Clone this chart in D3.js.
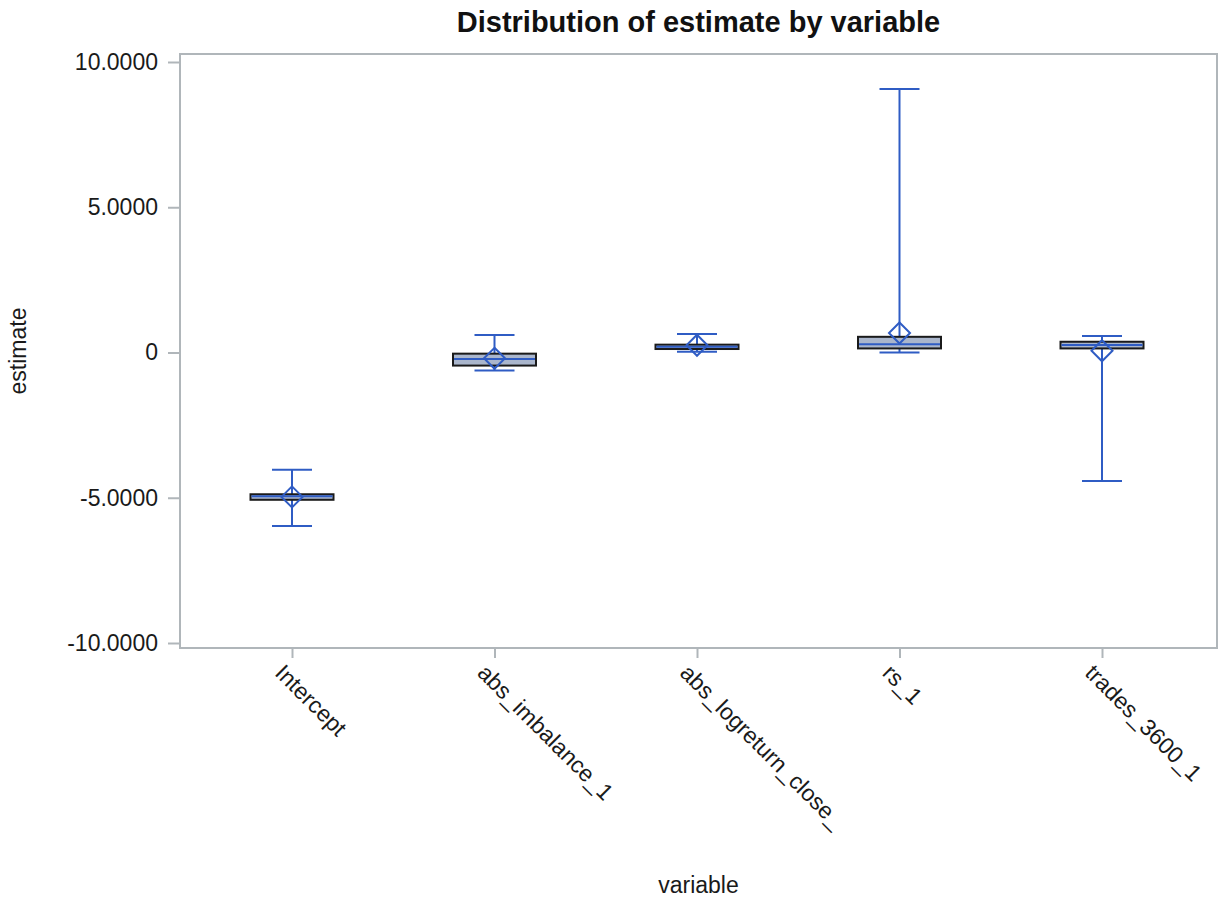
<!DOCTYPE html>
<html><head><meta charset="utf-8">
<script src="https://cdn.jsdelivr.net/npm/d3@7"></script>
<style>body{margin:0;background:#fff;} text{font-family:"Liberation Sans",Arial,sans-serif;}</style>
</head><body>
<svg id="c" width="1225" height="903"></svg>
<script>
const categories = ["Intercept","abs_imbalance_1","abs_logreturn_close_","rs_1","trades_3600_1"];
const q1Values     = [-5.07, -0.45, 0.12, 0.14, 0.14];
const medianValues = [-4.95, -0.22, 0.20, 0.28, 0.26];
const q3Values     = [-4.88, -0.04, 0.27, 0.54, 0.37];
const minValues    = [-5.97, -0.62, 0.03, 0.00, -4.42];
const maxValues    = [-4.04, 0.60, 0.64, 9.07, 0.57];
const meanValues   = [-4.97, -0.20, 0.25, 0.67, 0.06];
const yTicks = [-10, -5, 0, 5, 10];
const yTickLabels = ["-10.0000", "-5.0000", "0", "5.0000", "10.0000"];

const svg = d3.select("#c");
const L = 180, R = 1217, T = 54, B = 648;
const y = d3.scaleLinear().domain([-10, 10]).range([643, 62]);
const x = d3.scalePoint().domain(categories).range([L + 112, R - 115]);
const blue = "#2f5cc4", frame = "#b0b6ba", ink = "#1a1a1a";
const FS = 23;

svg.append("rect").attr("x", L).attr("y", T).attr("width", R - L).attr("height", B - T)
  .attr("fill", "none").attr("stroke", frame).attr("stroke-width", 2);

const yAx = svg.append("g").attr("transform", `translate(${L},0)`)
  .call(d3.axisLeft(y).tickValues(yTicks).tickFormat((d, i) => yTickLabels[i]).tickSize(12).tickPadding(10));
yAx.select(".domain").remove();
yAx.selectAll("line").attr("stroke", frame).attr("stroke-width", 2);
yAx.selectAll("text").attr("font-size", FS).attr("fill", ink).style("font-family", '"Liberation Sans",Arial,sans-serif');

const xAx = svg.append("g").attr("transform", `translate(0,${B})`)
  .call(d3.axisBottom(x).tickSize(10).tickFormat(""));
xAx.select(".domain").remove();
xAx.selectAll("line").attr("stroke", frame).attr("stroke-width", 2);
categories.forEach(c => {
  svg.append("text").attr("transform", `translate(${x(c) - 14},${B + 22}) rotate(45)`)
    .attr("font-size", FS).attr("fill", ink).attr("text-anchor", "start")
    .attr("dominant-baseline", "middle").text(c);
});

const bw = 83, cw = 40, ds = 10.5;
const data = categories.map((c, i) => ({c, q1: q1Values[i], med: medianValues[i], q3: q3Values[i],
  mn: minValues[i], mx: maxValues[i], mean: meanValues[i]}));
const g = svg.append("g");
data.forEach(d => {
  const cx = x(d.c);
  g.append("line").attr("x1", cx).attr("x2", cx).attr("y1", y(d.q3)).attr("y2", y(d.mx)).attr("stroke", blue).attr("stroke-width", 2);
  g.append("line").attr("x1", cx).attr("x2", cx).attr("y1", y(d.q1)).attr("y2", y(d.mn)).attr("stroke", blue).attr("stroke-width", 2);
  [d.mn, d.mx].forEach(v => g.append("line").attr("x1", cx - cw / 2).attr("x2", cx + cw / 2)
    .attr("y1", y(v)).attr("y2", y(v)).attr("stroke", blue).attr("stroke-width", 2));
  const top = y(d.q3), bot = y(d.q1);
  g.append("rect").attr("x", cx - bw / 2).attr("y", top).attr("width", bw).attr("height", Math.max(bot - top, 3))
    .attr("fill", "#aab6cc").attr("stroke", "#1a1a1a").attr("stroke-width", 2);
  g.append("line").attr("x1", cx - bw / 2 + 1).attr("x2", cx + bw / 2 - 1).attr("y1", y(d.med)).attr("y2", y(d.med))
    .attr("stroke", blue).attr("stroke-width", 2);
  const my = y(d.mean);
  g.append("path").attr("d", `M${cx},${my - ds}L${cx + ds},${my}L${cx},${my + ds}L${cx - ds},${my}Z`)
    .attr("fill", "none").attr("stroke", blue).attr("stroke-width", 2);
});

svg.append("text").attr("x", (L + R) / 2).attr("y", 32).attr("text-anchor", "middle")
  .attr("font-size", 29).attr("font-weight", "bold").attr("fill", "#111").text("Distribution of estimate by variable");
svg.append("text").attr("transform", `translate(26,${(T + B) / 2}) rotate(-90)`).attr("text-anchor", "middle")
  .attr("font-size", FS).attr("fill", ink).text("estimate");
svg.append("text").attr("x", (L + R) / 2).attr("y", 893).attr("text-anchor", "middle")
  .attr("font-size", FS).attr("fill", ink).text("variable");
</script>
</body></html>
